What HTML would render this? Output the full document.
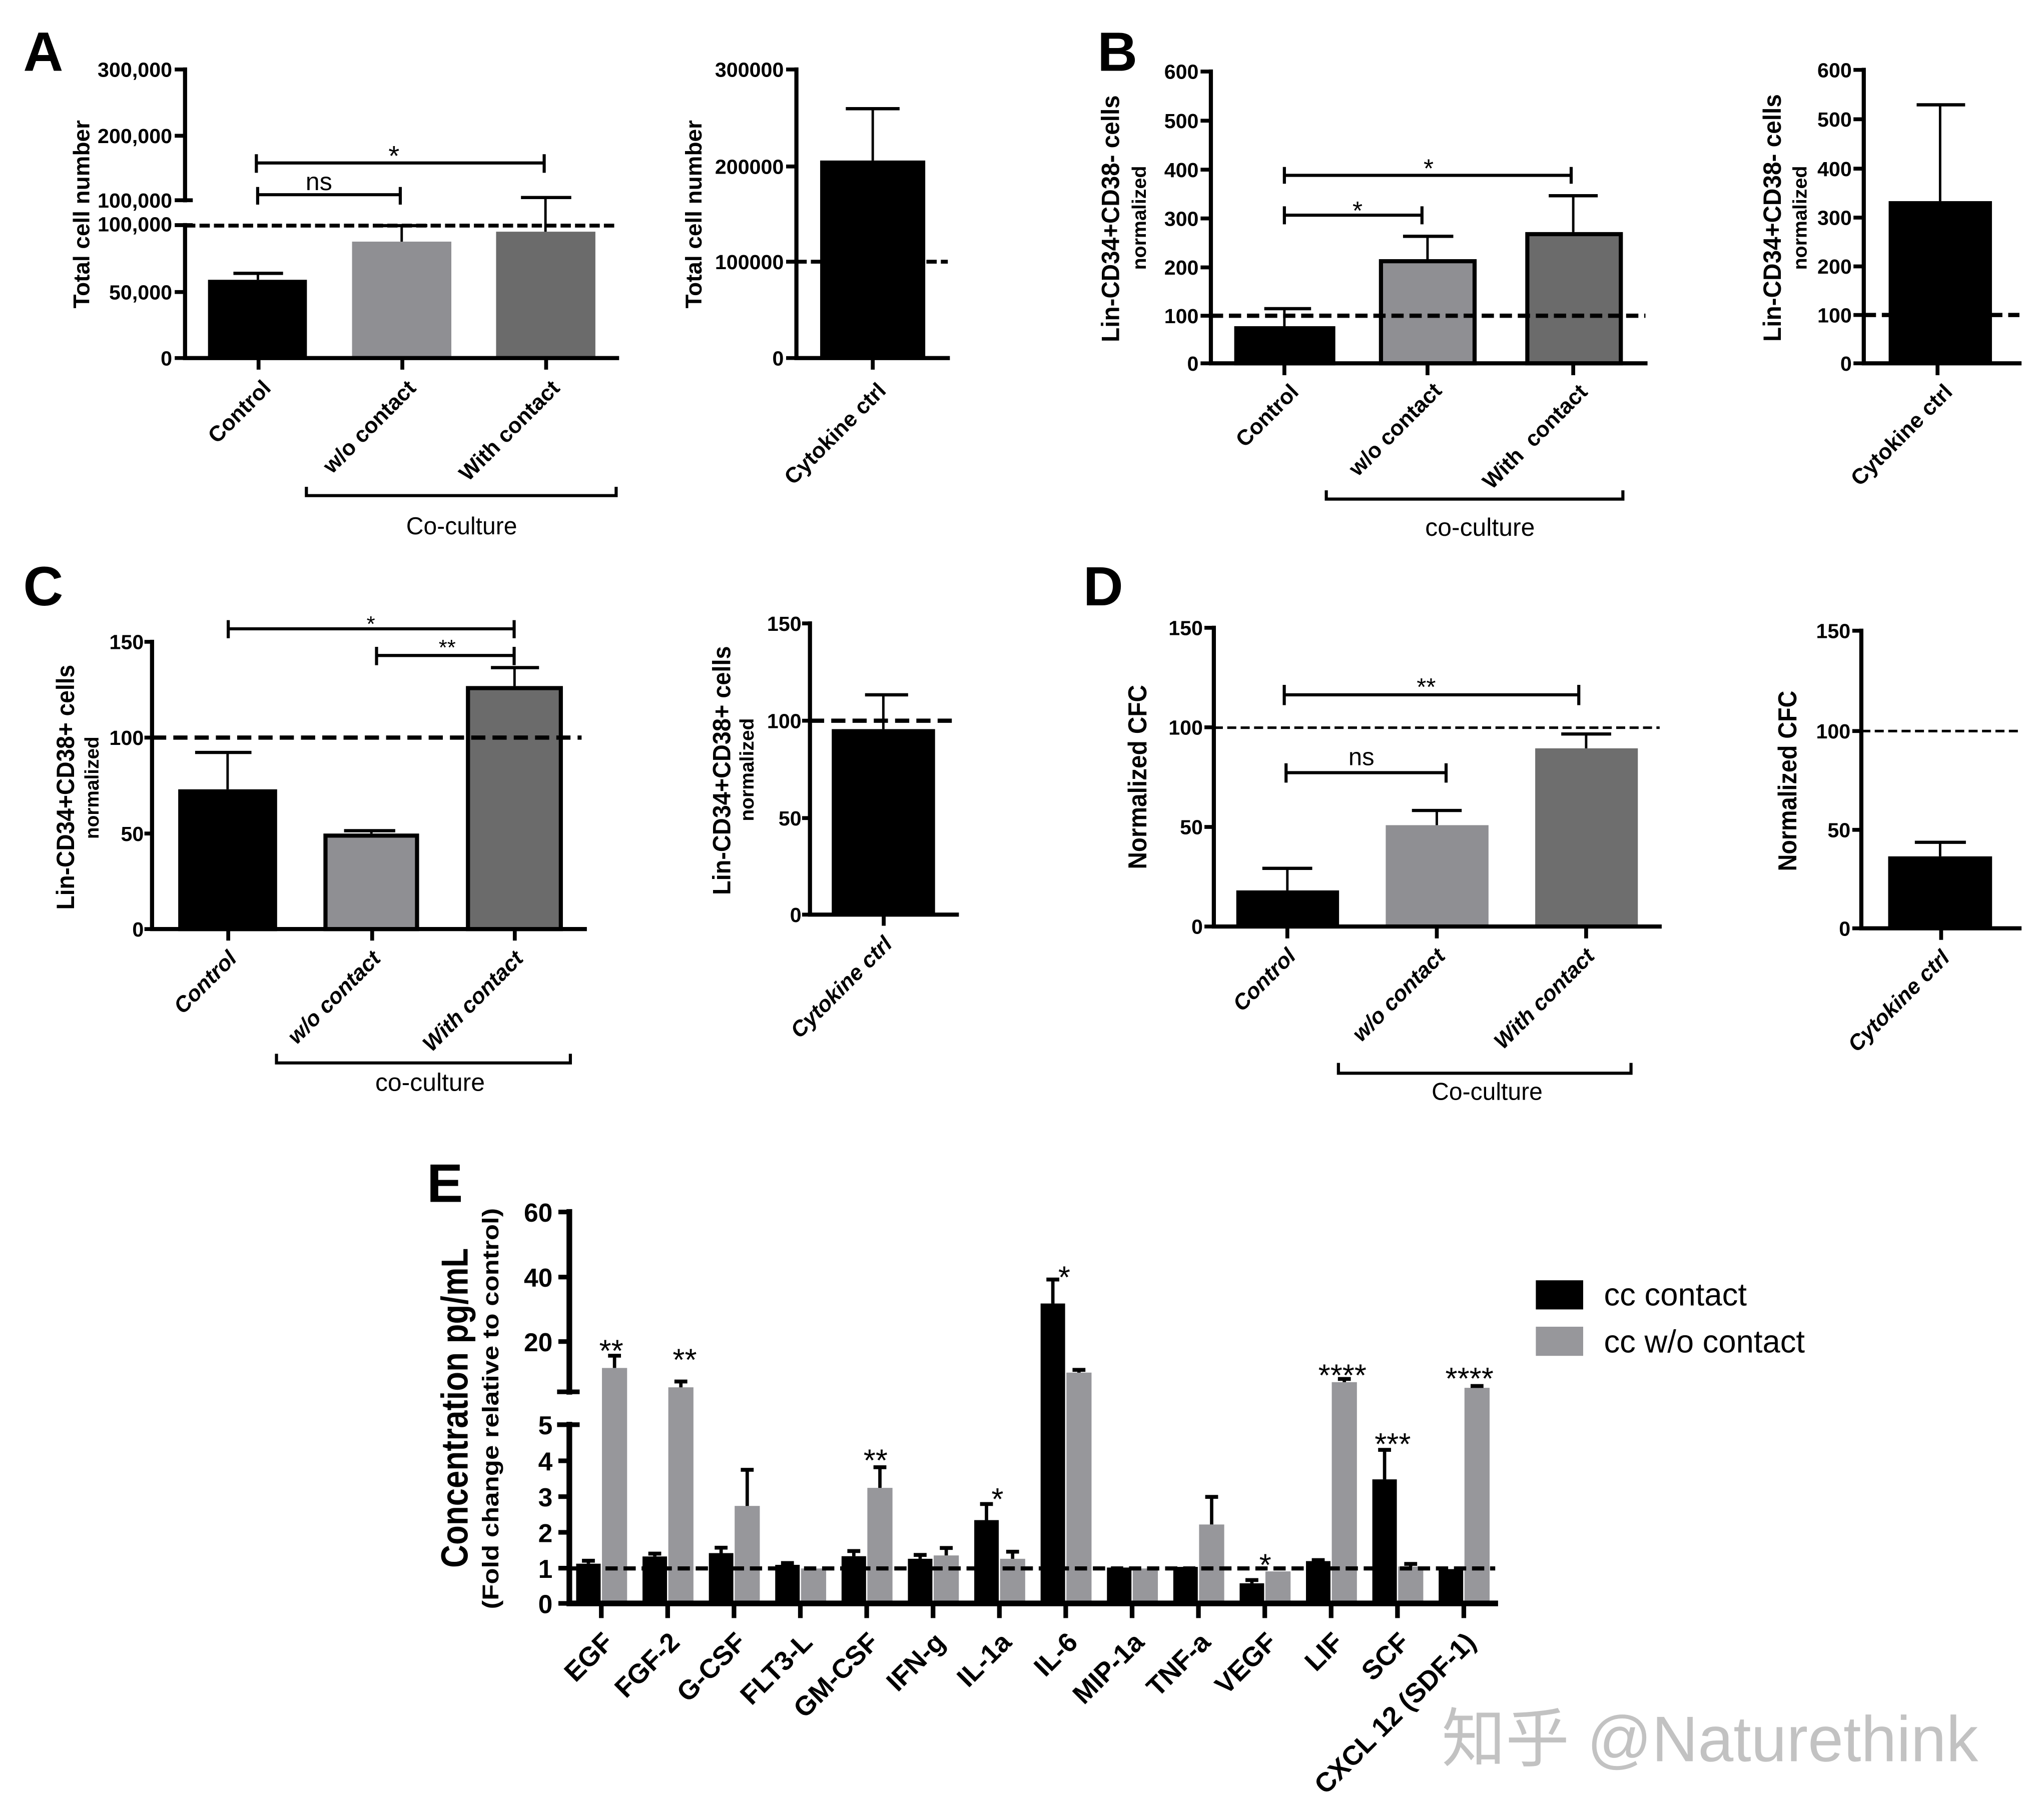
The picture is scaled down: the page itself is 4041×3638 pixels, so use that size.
<!DOCTYPE html>
<html>
<head>
<meta charset="utf-8">
<style>
html,body{margin:0;padding:0;background:#fff;}
svg{display:block;}
text{font-family:"Liberation Sans",Arial,sans-serif;fill:#000;}
.b{font-weight:bold;}
.ax{stroke:#000;stroke-width:3.2;fill:none;stroke-linecap:square;}
.tk{stroke:#000;stroke-width:3;fill:none;}
.eb{stroke:#000;stroke-width:1.9;fill:none;}
.cap{stroke:#000;stroke-width:2.5;fill:none;}
.br{stroke:#000;stroke-width:2.4;fill:none;}
.yl{font-weight:bold;font-size:16px;text-anchor:end;}
.xl{font-weight:bold;font-size:17px;text-anchor:end;}
.xi{font-weight:bold;font-style:italic;font-size:17px;text-anchor:end;}
.mid{text-anchor:middle;}
</style>
</head>
<body>
<svg xmlns="http://www.w3.org/2000/svg" width="4041" height="3638" viewBox="0 0 1568 1411.6" preserveAspectRatio="none">
<rect x="0" y="0" width="1568" height="1411.6" fill="#fff"/>

<!-- ================= PANEL A (left) ================= -->
<text x="18" y="55" class="b" font-size="43">A</text>
<rect x="161.3" y="217" width="76.7" height="60.7" fill="#000"/>
<rect x="273" y="187.4" width="77" height="90.3" fill="#8f8f93"/>
<rect x="384.7" y="179.7" width="77" height="98" fill="#6b6b6b"/>
<line x1="143.5" y1="175" x2="478.5" y2="175" stroke="#000" stroke-width="3" stroke-dasharray="8 3.2"/>
<path class="ax" d="M143.5,53.9V155.3M143.5,174.6V277.7H478.5"/>
<path class="tk" d="M135.5,53.9H143.5M135.5,105.3H143.5M135.5,155.3H149.5M135.5,174.6H149.5M135.5,226.5H143.5M135.5,277.7H143.5M200.5,277.7V286.7M312,277.7V286.7M423.5,277.7V286.7"/>
<text class="yl" x="133.5" y="59.6">300,000</text>
<text class="yl" x="133.5" y="111">200,000</text>
<text class="yl" x="133.5" y="161">100,000</text>
<text class="yl" x="133.5" y="179.5">100,000</text>
<text class="yl" x="133.5" y="232.2">50,000</text>
<text class="yl" x="133.5" y="283.4">0</text>
<text class="b mid" font-size="17.5" transform="translate(69.3,166.2) rotate(-90)" textLength="146" lengthAdjust="spacingAndGlyphs">Total cell number</text>
<path class="eb" d="M200,217V212M311.5,187.4V175M423,179.7V153.2"/>
<path class="cap" d="M181,212H219.5M292.6,175H331.4M404,153.2H443"/>
<path class="br" d="M198.8,126.4H422M198.8,119.6V134M422,119.6V134M199.8,151H310.4M199.8,145V158.7M310.4,145V158.7"/>
<text class="mid" x="305.5" y="128.5" font-size="22">*</text>
<text class="mid" x="247.3" y="147.5" font-size="19.5">ns</text>
<text class="xl" transform="translate(211,302) rotate(-45)">Control</text>
<text class="xl" transform="translate(323.5,302) rotate(-45)">w/o contact</text>
<text class="xl" transform="translate(435,302) rotate(-45)">With contact</text>
<path class="br" stroke-width="3" d="M237.6,377.6V384.4H477.8V377.6"/>
<text class="mid" x="358" y="414.5" font-size="19" textLength="86" lengthAdjust="spacingAndGlyphs">Co-culture</text>

<!-- ================= PANEL A (right) ================= -->
<line x1="617.6" y1="203" x2="735" y2="203" stroke="#000" stroke-width="3" stroke-dasharray="8 3.2"/>
<rect x="636" y="124.5" width="81.5" height="153.2" fill="#000"/>
<path class="ax" d="M617.6,53.9V277.7H735"/>
<path class="tk" d="M609.6,53.9H617.6M609.6,129.1H617.6M609.6,203H617.6M609.6,277.7H617.6M676.8,277.7V286.7"/>
<text class="yl" x="607.8" y="59.6">300000</text>
<text class="yl" x="607.8" y="134.8">200000</text>
<text class="yl" x="607.8" y="208.7">100000</text>
<text class="yl" x="607.8" y="283.4">0</text>
<text class="b mid" font-size="17.5" transform="translate(544,166.2) rotate(-90)" textLength="146" lengthAdjust="spacingAndGlyphs">Total cell number</text>
<path class="eb" d="M676.8,124.5V84.3"/>
<path class="cap" d="M655.9,84.3H697.6"/>
<text class="xl" transform="translate(688,304) rotate(-45)">Cytokine ctrl</text>

<!-- ================= PANEL B (left) ================= -->
<text x="851" y="55" class="b" font-size="43">B</text>
<rect x="958.7" y="254.6" width="75.2" height="27.2" fill="#000" stroke="#000" stroke-width="3.2"/>
<rect x="1070.9" y="202.6" width="72.6" height="79.2" fill="#8f8f93" stroke="#000" stroke-width="3.2"/>
<rect x="1184.4" y="181.6" width="72.5" height="100.2" fill="#6b6b6b" stroke="#000" stroke-width="3.2"/>
<path class="eb" stroke-width="2.2" d="M996,253V239.4M1107,201V183.3M1220,180V151.8"/>
<path class="cap" stroke-width="2.7" d="M980.4,239.4H1016.7M1088,183.3H1127M1201,151.8H1239"/>
<line x1="939" y1="244.9" x2="1276" y2="244.9" stroke="#000" stroke-width="3.3" stroke-dasharray="9.5 4.5"/>
<path class="ax" d="M939,55.5V281.8H1276"/>
<path class="tk" d="M931,55.5H939M931,93.6H939M931,131.6H939M931,169.4H939M931,207.4H939M931,244.9H939M931,281.8H939M996,281.8V291M1107,281.8V291M1220,281.8V291"/>
<text class="yl" x="929.5" y="61.2">600</text>
<text class="yl" x="929.5" y="99.3">500</text>
<text class="yl" x="929.5" y="137.3">400</text>
<text class="yl" x="929.5" y="175.1">300</text>
<text class="yl" x="929.5" y="213.1">200</text>
<text class="yl" x="929.5" y="250.6">100</text>
<text class="yl" x="929.5" y="287.5">0</text>
<text class="b mid" font-size="19.5" transform="translate(867.8,169.6) rotate(-90)" textLength="191.5" lengthAdjust="spacingAndGlyphs">Lin-CD34+CD38- cells</text>
<text class="b mid" font-size="15" transform="translate(888.5,169) rotate(-90)" textLength="80.7" lengthAdjust="spacingAndGlyphs">normalized</text>
<path class="br" d="M996,136H1218.4M996,129.5V142.5M1218.4,129.5V142.5M996,166.9H1102.7M996,160V174M1102.7,160V174"/>
<text class="mid" x="1107.8" y="137.6" font-size="20">*</text>
<text class="mid" x="1052.7" y="170.4" font-size="20">*</text>
<text class="xl" transform="translate(1008,305) rotate(-45)">Control</text>
<text class="xl" transform="translate(1119,304) rotate(-45)">w/o contact</text>
<text class="xl" style="white-space:pre" transform="translate(1232,305) rotate(-45)">With  contact</text>
<path class="br" stroke-width="3" d="M1028.5,380.3V387.1H1258.5V380.3"/>
<text class="mid" x="1147.7" y="415.5" font-size="19.4" textLength="85" lengthAdjust="spacingAndGlyphs">co-culture</text>

<!-- ================= PANEL B (right) ================= -->
<line x1="1445.3" y1="244.3" x2="1566" y2="244.3" stroke="#000" stroke-width="3.3" stroke-dasharray="9.5 4.5"/>
<rect x="1464.6" y="156" width="80.1" height="125.8" fill="#000"/>
<path class="ax" d="M1445.3,54.2V281.8H1566"/>
<path class="tk" d="M1437.3,54.2H1445.3M1437.3,92.5H1445.3M1437.3,130.8H1445.3M1437.3,168.8H1445.3M1437.3,206.6H1445.3M1437.3,244.3H1445.3M1437.3,281.8H1445.3M1502.5,281.8V291"/>
<text class="yl" x="1436" y="59.9">600</text>
<text class="yl" x="1436" y="98.2">500</text>
<text class="yl" x="1436" y="136.5">400</text>
<text class="yl" x="1436" y="174.5">300</text>
<text class="yl" x="1436" y="212.3">200</text>
<text class="yl" x="1436" y="250">100</text>
<text class="yl" x="1436" y="287.5">0</text>
<text class="b mid" font-size="19.5" transform="translate(1381,169) rotate(-90)" textLength="192" lengthAdjust="spacingAndGlyphs">Lin-CD34+CD38- cells</text>
<text class="b mid" font-size="15" transform="translate(1401,169) rotate(-90)" textLength="80.7" lengthAdjust="spacingAndGlyphs">normalized</text>
<path class="eb" stroke-width="2" d="M1504.5,156V81.3"/>
<path class="cap" d="M1486.3,81.3H1523.9"/>
<text class="xl" transform="translate(1515,305) rotate(-45)">Cytokine ctrl</text>

<!-- ================= PANEL C (left) ================= -->
<text x="18" y="469.5" class="b" font-size="43">C</text>
<rect x="139.8" y="613.8" width="73.5" height="106.8" fill="#000" stroke="#000" stroke-width="3.2"/>
<rect x="252.4" y="648.1" width="71" height="72.5" fill="#8f8f93" stroke="#000" stroke-width="3.2"/>
<rect x="362.9" y="533.7" width="72" height="186.9" fill="#6b6b6b" stroke="#000" stroke-width="3.2"/>
<path class="eb" stroke-width="2.2" d="M176.5,612.2V583.6M288,646.5V644.3M399,532.1V517.8"/>
<path class="cap" stroke-width="2.7" d="M151.3,583.6H195M266.8,644.3H306.5M380.7,517.8H418"/>
<line x1="117.9" y1="572.1" x2="451" y2="572.1" stroke="#000" stroke-width="3.3" stroke-dasharray="11 5.5"/>
<path class="ax" d="M117.9,497.8V720.6H453.5"/>
<path class="tk" d="M112,497.8H117.9M112,572.1H117.9M112,646.5H117.9M112,720.6H117.9M177,720.6V729.5M288.6,720.6V729.5M399.2,720.6V729.5"/>
<text class="yl" x="111.5" y="503.5">150</text>
<text class="yl" x="111.5" y="577.8">100</text>
<text class="yl" x="111.5" y="652.2">50</text>
<text class="yl" x="111.5" y="726.3">0</text>
<text class="b mid" font-size="19.5" transform="translate(57.5,610.6) rotate(-90)" textLength="190" lengthAdjust="spacingAndGlyphs">Lin-CD34+CD38+ cells</text>
<text class="b mid" font-size="15" transform="translate(76.5,611) rotate(-90)" textLength="79.5" lengthAdjust="spacingAndGlyphs">normalized</text>
<path class="br" d="M177,487.7H398.7M177,481V495M398.7,481V495M292,508.4H398.7M292,501.7V515.9M398.7,501.7V515.9"/>
<text class="mid" x="287.6" y="489.7" font-size="17">*</text>
<text class="mid" x="346.8" y="508" font-size="17">**</text>
<text class="xi" transform="translate(184.5,744.5) rotate(-45)">Control</text>
<text class="xi" transform="translate(296.1,744.5) rotate(-45)">w/o contact</text>
<text class="xi" transform="translate(406.7,744.5) rotate(-45)">With contact</text>
<path class="br" stroke-width="3" d="M214.4,817.3V824.4H442.3V817.3"/>
<text class="mid" x="333.5" y="846" font-size="19.4" textLength="85" lengthAdjust="spacingAndGlyphs">co-culture</text>

<!-- ================= PANEL C (right) ================= -->
<rect x="645" y="565.5" width="80.1" height="143.9" fill="#000"/>
<line x1="628.1" y1="559" x2="742" y2="559" stroke="#000" stroke-width="3.3" stroke-dasharray="11 5.5"/>
<path class="ax" d="M628.1,483.5V709.4H742"/>
<path class="tk" d="M622,483.5H628.1M622,559H628.1M622,634.5H628.1M622,709.4H628.1M685.3,709.4V718"/>
<text class="yl" x="621.5" y="489.2">150</text>
<text class="yl" x="621.5" y="564.7">100</text>
<text class="yl" x="621.5" y="640.2">50</text>
<text class="yl" x="621.5" y="715.1">0</text>
<text class="b mid" font-size="19.5" transform="translate(566.3,597.6) rotate(-90)" textLength="193" lengthAdjust="spacingAndGlyphs">Lin-CD34+CD38+ cells</text>
<text class="b mid" font-size="15" transform="translate(584.3,597) rotate(-90)" textLength="80" lengthAdjust="spacingAndGlyphs">normalized</text>
<path class="eb" stroke-width="2" d="M685,565.5V538.9"/>
<path class="cap" d="M670.8,538.9H704.2"/>
<text class="xi" transform="translate(692.8,733.3) rotate(-45)">Cytokine ctrl</text>

<!-- ================= PANEL D (left) ================= -->
<text x="840" y="469.5" class="b" font-size="43">D</text>
<rect x="958.7" y="690.6" width="79.7" height="28" fill="#000"/>
<rect x="1074.6" y="640" width="79.7" height="78.6" fill="#8f8f93"/>
<rect x="1190.5" y="580.4" width="79.6" height="138.2" fill="#6e6e6e"/>
<path class="eb" d="M998.3,690.6V673.5M1114.2,640V628.6M1230,580.4V569.3"/>
<path class="cap" d="M978.9,673.5H1017.6M1094.9,628.6H1133.5M1210.7,569.3H1249.4"/>
<line x1="941.3" y1="564.4" x2="1287" y2="564.4" stroke="#000" stroke-width="2" stroke-dasharray="7 3.4"/>
<path class="ax" d="M941.3,486.9V718.6H1287"/>
<path class="tk" d="M934,486.9H941.3M934,564.1H941.3M934,641.4H941.3M934,718.6H941.3M998.3,718.6V727.8M1114.2,718.6V727.8M1230,718.6V727.8"/>
<text class="yl" x="932.8" y="492.6">150</text>
<text class="yl" x="932.8" y="569.8">100</text>
<text class="yl" x="932.8" y="647.1">50</text>
<text class="yl" x="932.8" y="724.3">0</text>
<text class="b mid" font-size="20" transform="translate(889,602.7) rotate(-90)" textLength="143" lengthAdjust="spacingAndGlyphs">Normalized CFC</text>
<path class="br" d="M995.9,538.9H1224.3M995.9,531.2V546.9M1224.3,531.2V546.9M997.3,599.3H1121.4M997.3,592V607M1121.4,592V607"/>
<text class="mid" x="1106" y="539.4" font-size="19">**</text>
<text class="mid" x="1055.7" y="593.5" font-size="19">ns</text>
<text class="xi" transform="translate(1005.8,742.6) rotate(-45)">Control</text>
<text class="xi" transform="translate(1121.7,742.6) rotate(-45)">w/o contact</text>
<text class="xi" transform="translate(1237.5,742.6) rotate(-45)">With contact</text>
<path class="br" stroke-width="3" d="M1037.9,824.4V832.4H1264.8V824.4"/>
<text class="mid" x="1153.2" y="853" font-size="19" textLength="86" lengthAdjust="spacingAndGlyphs">Co-culture</text>

<!-- ================= PANEL D (right) ================= -->
<line x1="1443.4" y1="567" x2="1566" y2="567" stroke="#000" stroke-width="2" stroke-dasharray="7 3.4"/>
<rect x="1464.2" y="664.2" width="80.6" height="55.8" fill="#000"/>
<path class="ax" d="M1443.4,489.2V720H1566"/>
<path class="tk" d="M1436.4,489.2H1443.4M1436.4,567H1443.4M1436.4,643.6H1443.4M1436.4,720H1443.4M1505.3,720V729"/>
<text class="yl" x="1435" y="494.9">150</text>
<text class="yl" x="1435" y="572.7">100</text>
<text class="yl" x="1435" y="649.3">50</text>
<text class="yl" x="1435" y="725.7">0</text>
<text class="b mid" font-size="20" transform="translate(1393,605.7) rotate(-90)" textLength="140" lengthAdjust="spacingAndGlyphs">Normalized CFC</text>
<path class="eb" d="M1504.5,664.2V653.3"/>
<path class="cap" d="M1484.9,653.3H1524.5"/>
<text class="xi" transform="translate(1512.8,744) rotate(-45)">Cytokine ctrl</text>

<!-- ================= PANEL E ================= -->
<text x="331" y="932.3" class="b" font-size="42">E</text>
<!-- black bars -->
<g fill="#000">
<rect x="446.8" y="1212.8" width="19" height="30.8"/>
<rect x="498.25" y="1207.2" width="19" height="36.4"/>
<rect x="549.7" y="1204.6" width="19" height="39"/>
<rect x="601.15" y="1213.7" width="19" height="29.9"/>
<rect x="652.6" y="1207" width="19" height="36.6"/>
<rect x="704.05" y="1209" width="19" height="34.6"/>
<rect x="755.5" y="1179" width="19" height="64.6"/>
<rect x="806.95" y="1011" width="19" height="232.6"/>
<rect x="858.4" y="1215.8" width="19" height="27.8"/>
<rect x="909.85" y="1215.3" width="19" height="28.3"/>
<rect x="961.3" y="1228" width="19" height="15.6"/>
<rect x="1012.75" y="1210.8" width="19" height="32.8"/>
<rect x="1064.2" y="1147.4" width="19" height="96.2"/>
<rect x="1115.65" y="1217" width="19" height="26.6"/>
</g>
<!-- gray bars -->
<g fill="#97979b">
<rect x="466.8" y="1061" width="19.5" height="182.6"/>
<rect x="518.25" y="1076" width="19.5" height="167.6"/>
<rect x="569.7" y="1168" width="19.5" height="75.6"/>
<rect x="621.15" y="1216.5" width="19.5" height="27.1"/>
<rect x="672.6" y="1154" width="19.5" height="89.6"/>
<rect x="724.05" y="1206.4" width="19.5" height="37.2"/>
<rect x="775.5" y="1209" width="19.5" height="34.6"/>
<rect x="826.95" y="1064.6" width="19.5" height="179"/>
<rect x="878.4" y="1216.5" width="19.5" height="27.1"/>
<rect x="929.85" y="1182.4" width="19.5" height="61.2"/>
<rect x="981.3" y="1218.8" width="19.5" height="24.8"/>
<rect x="1032.75" y="1072" width="19.5" height="171.6"/>
<rect x="1084.2" y="1215" width="19.5" height="28.6"/>
<rect x="1135.65" y="1076.4" width="19.5" height="167.2"/>
</g>
<path stroke="#000" stroke-width="2.6" fill="none" d="M456.3,1212.8V1210.5M507.75,1207.2V1205M559.2,1204.6V1200.4M610.65,1213.7V1212.3M662.1,1207V1203M713.55,1209V1206M765,1179V1166.5M816.45,1011V992.4M970.8,1228V1225.5M1022.25,1210.8V1210M1073.7,1147.4V1124.5M476.55,1061V1051.5M528,1076V1071.5M579.45,1168V1140M682.35,1154V1138M733.8,1206.4V1200.6M785.25,1209V1203.5M836.7,1064.6V1062.5M939.6,1182.4V1161M1042.5,1072V1069.5M1093.95,1215V1213M1145.4,1076.4V1075"/>
<path stroke="#000" stroke-width="3" fill="none" d="M451.3,1210.5H461.3M502.75,1205H512.75M554.2,1200.4H564.2M605.65,1212.3H615.65M657.1,1203H667.1M708.55,1206H718.55M760,1166.5H770M811.45,992.4H821.45M965.8,1225.5H975.8M1017.25,1210H1027.25M1068.7,1124.5H1078.7M471.55,1051.5H481.55M523,1071.5H533M574.45,1140H584.45M677.35,1138H687.35M728.8,1200.6H738.8M780.25,1203.5H790.25M831.7,1062.5H841.7M934.6,1161H944.6M1037.5,1069.5H1047.5M1088.95,1213H1098.95M1140.4,1075H1150.4"/>
<line x1="441.5" y1="1216.5" x2="1159.5" y2="1216.5" stroke="#000" stroke-width="3.2" stroke-dasharray="9.5 4.5"/>
<path stroke="#000" stroke-width="4.4" fill="none" stroke-linecap="square" d="M441.5,940V1079.5M441.5,1105V1243.6H1159.5"/>
<path stroke="#000" stroke-width="3.6" fill="none" d="M433,940H441.5M433,990.5H441.5M433,1040.5H441.5M432,1079.5H449.5M432,1105H449.5M433,1133H441.5M433,1160.8H441.5M433,1188.5H441.5M433,1216.3H441.5M433,1243.6H441.5M466.3,1243.6V1255M517.75,1243.6V1255M569.2,1243.6V1255M620.65,1243.6V1255M672.1,1243.6V1255M723.55,1243.6V1255M775,1243.6V1255M826.45,1243.6V1255M877.9,1243.6V1255M929.35,1243.6V1255M980.8,1243.6V1255M1032.25,1243.6V1255M1083.7,1243.6V1255M1135.15,1243.6V1255"/>
<g class="b" font-size="20" text-anchor="end">
<text x="428.5" y="947.5">60</text>
<text x="428.5" y="998">40</text>
<text x="428.5" y="1048">20</text>
<text x="428.5" y="1112.5">5</text>
<text x="428.5" y="1140.5">4</text>
<text x="428.5" y="1168.3">3</text>
<text x="428.5" y="1196">2</text>
<text x="428.5" y="1223.8">1</text>
<text x="428.5" y="1251.1">0</text>
</g>
<text class="b mid" font-size="29" transform="translate(362.6,1092) rotate(-90)" textLength="248" lengthAdjust="spacingAndGlyphs">Concentration pg/mL</text>
<text class="b mid" font-size="17.5" transform="translate(386.4,1092.5) rotate(-90)" textLength="311" lengthAdjust="spacingAndGlyphs">(Fold change relative to control)</text>
<g font-size="24" text-anchor="middle">
<text x="474" y="1056">**</text>
<text x="531" y="1063">**</text>
<text x="679" y="1141">**</text>
<text x="773.5" y="1171">*</text>
<text x="825.3" y="999">*</text>
<text x="981.2" y="1222">*</text>
<text x="1041" y="1075">****</text>
<text x="1080" y="1128.4">***</text>
<text x="1139.5" y="1077.6">****</text>
</g>
<g class="b" font-size="21" text-anchor="end">
<text transform="translate(476.8,1275) rotate(-45)">EGF</text>
<text transform="translate(528.25,1275) rotate(-45)">FGF-2</text>
<text transform="translate(579.7,1275) rotate(-45)">G-CSF</text>
<text transform="translate(631.15,1275) rotate(-45)">FLT3-L</text>
<text transform="translate(682.6,1275) rotate(-45)">GM-CSF</text>
<text transform="translate(734.05,1275) rotate(-45)">IFN-g</text>
<text transform="translate(785.5,1275) rotate(-45)">IL-1a</text>
<text transform="translate(836.95,1275) rotate(-45)">IL-6</text>
<text transform="translate(888.4,1275) rotate(-45)">MIP-1a</text>
<text transform="translate(939.85,1275) rotate(-45)">TNF-a</text>
<text transform="translate(991.3,1275) rotate(-45)">VEGF</text>
<text transform="translate(1042.75,1275) rotate(-45)">LIF</text>
<text transform="translate(1094.2,1275) rotate(-45)">SCF</text>
<text transform="translate(1145.65,1275) rotate(-45)">CXCL 12 (SDF-1)</text>
</g>
<!-- legend -->
<rect x="1191" y="993" width="36.7" height="22.6" fill="#000"/>
<rect x="1191" y="1029" width="36.7" height="22.6" fill="#97979b"/>
<text x="1243.8" y="1012.6" font-size="25" textLength="110.8" lengthAdjust="spacingAndGlyphs">cc contact</text>
<text x="1243.8" y="1049" font-size="25" textLength="155.8" lengthAdjust="spacingAndGlyphs">cc w/o contact</text>

<!-- watermark -->
<text x="1118" y="1366" font-size="50" fill="#c2c2c2" style="fill:#c2c2c2;font-family:'Liberation Sans','Noto Sans CJK SC',sans-serif" textLength="416" lengthAdjust="spacingAndGlyphs">知乎 @Naturethink</text>
</svg>
</body>
</html>
